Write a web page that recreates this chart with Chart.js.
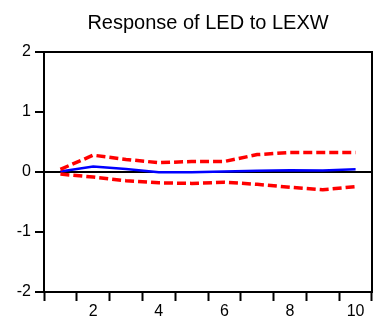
<!DOCTYPE html>
<html>
<head>
<meta charset="utf-8">
<script src="https://cdn.jsdelivr.net/npm/chart.js@4"></script>
<style>
  html, body { margin: 0; padding: 0; background: #fff; }
  #wrap { width: 377px; height: 334px; }
</style>
</head>
<body>
<div id="wrap"><canvas id="irf" width="377" height="334"></canvas></div>
<script>
// Периоды отклика и значения
const periods = ["1", "2", "3", "4", "5", "6", "7", "8", "9", "10"];
const response = [0.01, 0.09, 0.05, -0.005, -0.005, 0.007, 0.02, 0.03, 0.025, 0.045];
const upperBand = [0.045, 0.28, 0.21, 0.155, 0.175, 0.175, 0.29, 0.325, 0.325, 0.325];
const lowerBand = [-0.035, -0.085, -0.145, -0.18, -0.19, -0.17, -0.205, -0.255, -0.295, -0.245];
const yTicks = [-2, -1, 0, 1, 2];

// Рамка вокруг области графика (верх и правый край)
const frameBox = {
  id: "frameBox",
  afterDraw(chart) {
    const { ctx, chartArea: a } = chart;
    ctx.save();
    ctx.strokeStyle = "#000";
    ctx.lineWidth = 2;
    ctx.strokeRect(a.left, a.top, a.right - a.left, a.bottom - a.top);
    ctx.restore();
  },
};

const bandStyle = {
  borderColor: "#ff0000",
  borderWidth: 3.5,
  borderDash: [9, 4],
  pointRadius: 0,
  tension: 0,
  fill: false,
};

new Chart(document.getElementById("irf"), {
  type: "line",
  data: {
    labels: periods,
    datasets: [
      { label: "upper", data: upperBand, ...bandStyle },
      { label: "lower", data: lowerBand, ...bandStyle },
      {
        label: "response",
        data: response,
        borderColor: "#0000ff",
        borderWidth: 2.5,
        pointRadius: 0,
        tension: 0,
        fill: false,
      },
    ],
  },
  options: {
    responsive: false,
    animation: false,
    layout: { padding: { left: 0, right: 5, top: 0, bottom: 0 } },
    plugins: {
      legend: { display: false },
      tooltip: { enabled: false },
      title: {
        display: true,
        text: "Response of LED to LEXW",
        fullSize: false,
        color: "#000",
        font: { family: "'Liberation Sans', Arial, sans-serif", size: 20, weight: "normal" },
        padding: { top: 11, bottom: 17 },
      },
    },
    scales: {
      x: {
        offset: true,
        grid: {
          offset: true,
          drawOnChartArea: false,
          drawTicks: true,
          tickLength: 9,
          tickColor: "#000",
          tickWidth: 2,
        },
        border: { display: true, color: "#000", width: 2 },
        ticks: {
          autoSkip: false,
          maxRotation: 0,
          padding: 1,
          color: "#000",
          font: { family: "'Liberation Sans', Arial, sans-serif", size: 16 },
          callback(value, index) {
            return (index + 1) % 2 === 0 ? periods[index] : "";
          },
        },
        afterFit(scale) {
          scale.height = 42;
        },
      },
      y: {
        min: -2,
        max: 2,
        afterBuildTicks(scale) {
          scale.ticks = yTicks.map((v) => ({ value: v }));
        },
        grid: {
          drawOnChartArea: true,
          color(ctx) {
            return ctx.tick && ctx.tick.value === 0 ? "#000" : "rgba(0,0,0,0)";
          },
          lineWidth: 2,
          tickLength: 9,
          tickColor: "#000",
          tickWidth: 2,
        },
        border: { display: true, color: "#000", width: 2 },
        ticks: {
          padding: 4,
          color: "#000",
          font: { family: "'Liberation Sans', Arial, sans-serif", size: 16 },
          callback(value) {
            return String(value);
          },
        },
        afterFit(scale) {
          scale.width = 44;
        },
      },
    },
  },
  plugins: [frameBox],
});
</script>
</body>
</html>
